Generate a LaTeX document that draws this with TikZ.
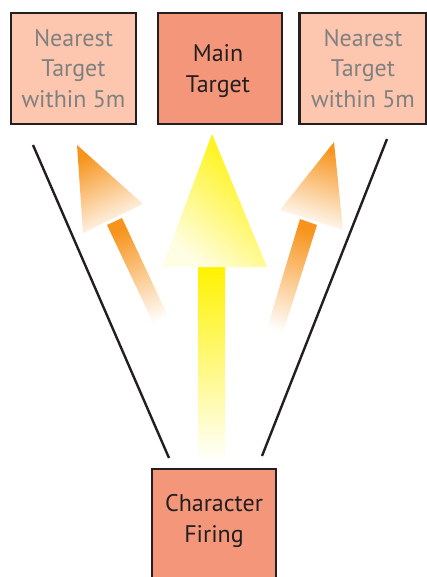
\documentclass[tikz,border=0pt]{standalone}
\usepackage{fontspec}
\setmainfont{PT Sans}
\definecolor{edge}{RGB}{35,31,32}
\definecolor{sidefill}{RGB}{252,198,175}
\definecolor{mainfill}{RGB}{244,150,121}
\definecolor{sidetext}{RGB}{128,128,128}
\definecolor{beam}{RGB}{255,242,0}
\definecolor{spread}{RGB}{247,148,29}
\tikzset{
  box/.style={draw=edge, line width=2.6pt, rectangle, inner sep=0pt, align=center,
    font=\fontsize{24}{30.5}\selectfont},
  sidebox/.style={box, fill=sidefill, text=sidetext},
  mainbox/.style={box, fill=mainfill, text=edge},
  bound/.style={draw=edge, line width=2.4pt},
}
\begin{document}
\begin{tikzpicture}[x=1pt, y=-1pt]
\useasboundingbox (0,0) rectangle (427,577);

% target boxes
\node[sidebox, minimum width=125pt, minimum height=111pt] (left) at (73.5,68.5)
  {Nearest\\Target\\within 5m};
\node[mainbox, minimum width=124pt, minimum height=111pt] (main) at (220,68.5) {};
\node[font=\fontsize{24}{30.5}\selectfont, text=edge, align=center] (maintext) at (218,71)
  {Main\\Target};
\node[sidebox, minimum width=127pt, minimum height=111pt] (right) at (363,68.5)
  {Nearest\\Target\\within 5m};

% firing character (runs off the bottom edge)
\node[mainbox, minimum width=124pt, minimum height=125pt] (fire) at (214,531.5) {};
\node[font=\fontsize{24}{30.5}\selectfont, text=edge, align=center] (firetext) at (214,521)
  {Character\\Firing};

% field-of-fire boundary lines
\coordinate (lt) at (33,145);
\coordinate (lb) at (169,458);
\coordinate (rt) at (387,139);
\coordinate (rb) at (262,456);
\draw[bound] (lt) -- (lb);
\draw[bound] (rt) -- (rb);

% central shot
\shade[top color=beam, bottom color=white] (198,267) rectangle (225,462);
\shade[top color=beam, bottom color=white!90!beam, shading angle=-40]
  (212,134) -- (267,267) -- (162,267) -- cycle;

% left spread
\shade[top color=spread, bottom color=white, shading angle=25]
  (107,225) -- (122,218) -- (174,329) -- (158,333) -- cycle;
\shade[top color=spread, bottom color=white, shading angle=25]
  (77,145) -- (143,204) -- (83,233) -- cycle;

% right spread
\shade[top color=spread, bottom color=white, shading angle=-17]
  (300,219) -- (317,225) -- (280,342) -- (265,335) -- cycle;
\shade[top color=spread, bottom color=white, shading angle=-17]
  (334,142) -- (343,230) -- (280,210) -- cycle;
\end{tikzpicture}
\end{document}
